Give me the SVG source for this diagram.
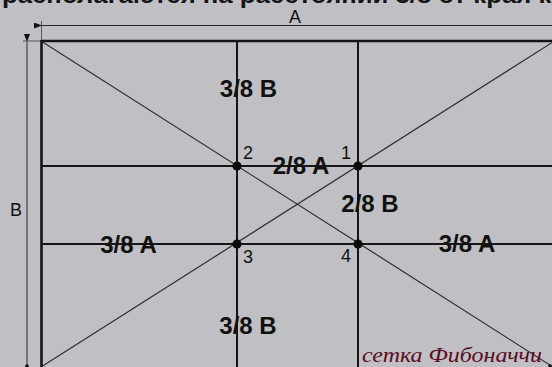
<svg xmlns="http://www.w3.org/2000/svg" width="552" height="367" viewBox="0 0 552 367">
<defs>
<style>
.frame{stroke:#141414;stroke-width:2.6;fill:none}
.grid{stroke:#161616;stroke-width:2;fill:none}
.diag{stroke:#2e2e30;stroke-width:1.2;fill:none}
.dim{stroke:#2a2a2a;stroke-width:1;fill:none}
.ext{stroke:#555;stroke-width:1;fill:none}
.lbl{font-family:"Liberation Sans",Arial,sans-serif;font-weight:bold;font-size:24px;fill:#111}
.num{font-family:"Liberation Sans",Arial,sans-serif;font-size:18px;fill:#111}
.dimt{font-family:"Liberation Sans",Arial,sans-serif;font-size:18px;fill:#111}
.pt{fill:#0c0c0c}
</style>
<marker id="ah" viewBox="0 0 8 6" refX="0" refY="3" markerWidth="8" markerHeight="6" orient="auto-start-reverse" markerUnits="userSpaceOnUse">
<path d="M0,3 L8,0 L8,6 z" fill="#111"/>
</marker>
</defs>
<rect width="552" height="367" fill="#c0bfc4"/>
<text x="2" y="3" font-family="'Liberation Sans',Arial,sans-serif" font-weight="bold" font-size="23" fill="#151515" textLength="610" lengthAdjust="spacingAndGlyphs">располагаются на расстоянии 3/8 от края кадра</text>
<g id="dimensions">
<line class="ext" x1="41.5" y1="21" x2="41.5" y2="41"/>
<line class="dim" x1="42" y1="25.5" x2="552" y2="25.5" marker-start="url(#ah)"/>
<line class="ext" x1="23" y1="41" x2="41" y2="41"/>
<line class="dim" x1="27" y1="42" x2="27" y2="367" marker-start="url(#ah)"/>
<circle cx="27" cy="366" r="1.8" fill="#111"/>
<text class="dimt" x="295" y="23" text-anchor="middle">A</text>
<text class="dimt" x="16" y="216" text-anchor="middle">B</text>
</g>
<g id="connectors">
<line class="diag" x1="41" y1="41" x2="553" y2="367"/>
<line class="diag" x1="41" y1="367" x2="553" y2="42"/>
<line class="frame" x1="41.5" y1="41" x2="552" y2="41"/>
<line class="frame" x1="41.5" y1="40" x2="41.5" y2="367"/>
<line class="grid" x1="237" y1="41" x2="237" y2="367"/>
<line class="grid" x1="358" y1="41" x2="358" y2="367"/>
<line class="grid" x1="41" y1="166" x2="552" y2="166"/>
<line class="grid" x1="41" y1="244" x2="552" y2="244"/>
<circle cx="550" cy="366" r="1.8" fill="#111"/>
</g>
<g id="point-1"><circle class="pt" cx="358" cy="166" r="4.6"/><text class="num" x="346" y="159" text-anchor="middle">1</text></g>
<g id="point-2"><circle class="pt" cx="237" cy="166" r="4.6"/><text class="num" x="248" y="159" text-anchor="middle">2</text></g>
<g id="point-3"><circle class="pt" cx="237" cy="244" r="4.6"/><text class="num" x="248" y="263" text-anchor="middle">3</text></g>
<g id="point-4"><circle class="pt" cx="358" cy="244" r="4.6"/><text class="num" x="346" y="262" text-anchor="middle">4</text></g>
<g id="label-top-3-8-B"><text class="lbl" x="248.5" y="97" text-anchor="middle">3/8 B</text></g>
<g id="label-2-8-A"><text class="lbl" x="301" y="174" text-anchor="middle">2/8 A</text></g>
<g id="label-2-8-B"><text class="lbl" x="370" y="212" text-anchor="middle">2/8 B</text></g>
<g id="label-left-3-8-A"><text class="lbl" x="128.5" y="253" text-anchor="middle">3/8 A</text></g>
<g id="label-right-3-8-A"><text class="lbl" x="467" y="252" text-anchor="middle">3/8 A</text></g>
<g id="label-bottom-3-8-B"><text class="lbl" x="248" y="334" text-anchor="middle">3/8 B</text></g>
<g id="caption"><text x="362" y="362" font-family="'Liberation Serif','Times New Roman',serif" font-style="italic" font-size="22" fill="#5a0c22" textLength="180" lengthAdjust="spacingAndGlyphs">сетка Фибоначчи</text></g>
</svg>
